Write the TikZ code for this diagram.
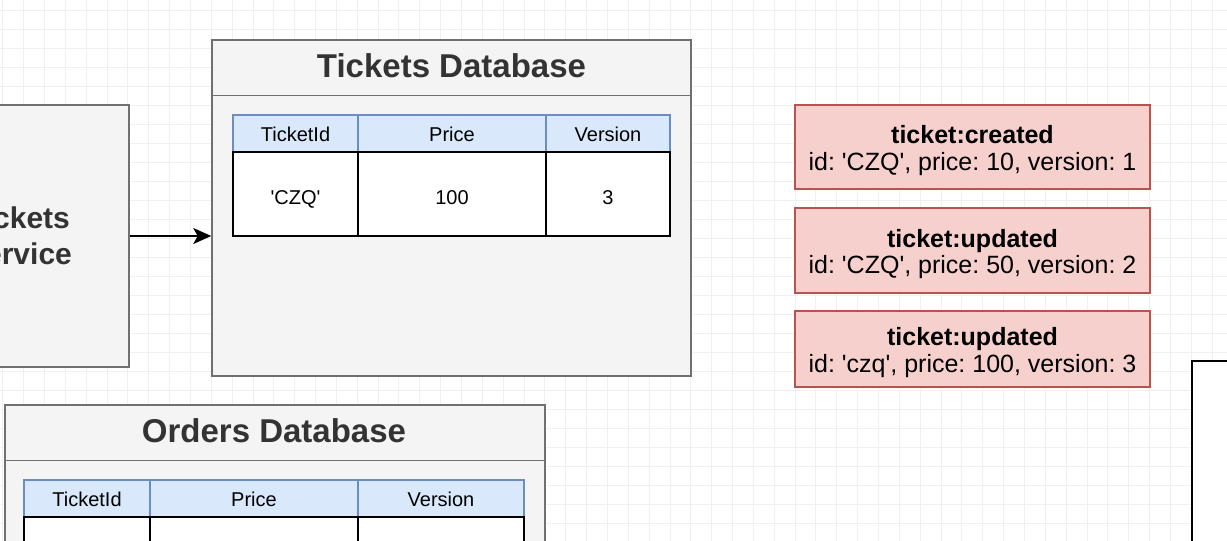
\documentclass[tikz,border=0pt]{standalone}
\usepackage{fontspec}
\setmainfont{Liberation Sans}
\usepackage{tikz}
\usetikzlibrary{arrows.meta}
\definecolor{boxgray}{HTML}{F4F4F4}
\definecolor{boxline}{HTML}{707070}
\definecolor{headblue}{HTML}{DAE8FC}
\definecolor{headline}{HTML}{6C8EBF}
\definecolor{evfill}{HTML}{F6D0CD}
\definecolor{evline}{HTML}{B85450}
\definecolor{textgray}{HTML}{333333}
\definecolor{gridgray}{HTML}{F0F0F0}
\tikzset{>={Stealth[width=16pt,length=18pt,inset=4.5pt]}}
\newcommand{\titlefont}{\fontsize{33}{38}\selectfont\bfseries}
\newcommand{\svcfont}{\fontsize{30}{36}\selectfont\bfseries}
\newcommand{\tabfont}{\fontsize{20}{24}\selectfont}
\newcommand{\evfont}{\fontsize{25}{26.7}\selectfont\frenchspacing}
\newcommand{\evstrut}{\rule{0pt}{25pt}}
\newcommand{\sq}{\textquotesingle}

\begin{document}
\begin{tikzpicture}[x=1pt,y=-1pt,
	gridline/.style={draw=gridgray, line width=1pt},
	dbbox/.style={draw=boxline, fill=boxgray, line width=1.5pt, inner sep=0pt},
	dbline/.style={draw=boxline, line width=1.5pt},
	hcell/.style={draw=headline, fill=headblue, line width=1.5pt, minimum height=37pt, inner sep=0pt, text height=16pt, text depth=0pt, font=\tabfont},
	bcell/.style={draw=black, fill=white, line width=2pt, minimum height=84pt, inner sep=0pt, text height=21pt, text depth=0pt, font=\tabfont},
	evbox/.style={draw=evline, fill=evfill, line width=1.5pt, minimum width=355pt, inner sep=0pt, align=center, font=\evfont}]
	\useasboundingbox (0,0) rectangle (1227,541);
	\clip (0,0) rectangle (1227,541);
	\fill[white] (0,0) rectangle (1227,541);
	\foreach \gx in {0,...,59}
		\draw[gridline] (2.8+20.85*\gx,0) -- (2.8+20.85*\gx,541);
	\foreach \gy in {0,...,28}
		\draw[gridline] (0,10+19*\gy) -- (1227,10+19*\gy);

	\node[dbbox, minimum width=221pt, minimum height=262pt, align=center, font=\svcfont, text=textgray] (svc) at (18.5,236) {Tickets\\Service};

	\node[dbbox, minimum width=479pt, minimum height=336pt] (tdb) at (451.5,208) {};
	\draw[dbline] ([yshift=-56pt]tdb.north west) -- ([yshift=-56pt]tdb.north east);
	\node[font=\titlefont, text=textgray] (tdbtitle) at (451.5,66) {Tickets Database};
	\node[hcell, minimum width=125pt] (tidh) at (295.5,133.5) {TicketId};
	\node[hcell, minimum width=188pt] (tpriceh) at (452,133.5) {Price};
	\node[hcell, minimum width=124pt] (tverh) at (608,133.5) {Version};
	\node[bcell, minimum width=125pt] (tid) at (295.5,194) {\sq CZQ\sq};
	\node[bcell, minimum width=188pt] (tprice) at (452,194) {100};
	\node[bcell, minimum width=124pt] (tver) at (608,194) {3};

	\draw[->, line width=1.8pt] (svc.east) -- (svc.east -| tdb.west);

	\node[dbbox, minimum width=540pt, minimum height=336pt] (odb) at (275,573) {};
	\draw[dbline] ([yshift=-56pt]odb.north west) -- ([yshift=-56pt]odb.north east);
	\node[font=\titlefont, text=textgray] (odbtitle) at (274,431) {Orders Database};
	\node[hcell, minimum width=126pt] (oidh) at (87,498.5) {TicketId};
	\node[hcell, minimum width=208pt] (opriceh) at (254,498.5) {Price};
	\node[hcell, minimum width=166pt] (overh) at (441,498.5) {Version};
	\node[bcell, minimum width=126pt] (oid) at (87,559) {};
	\node[bcell, minimum width=208pt] (oprice) at (254,559) {};
	\node[bcell, minimum width=166pt] (over) at (441,559) {};

	\node[evbox, minimum height=84pt] (evcreated) at (972.5,147) {\evstrut\textbf{ticket:created}\\id: \sq CZQ\sq, price: 10, version: 1};
	\node[evbox, minimum height=85pt] (evupdatedA) at (972.5,250.5) {\evstrut\textbf{ticket:updated}\\id: \sq CZQ\sq, price: 50, version: 2};
	\node[evbox, minimum height=76pt] (evupdatedB) at (972.5,349) {\evstrut\textbf{ticket:updated}\\id: \sq czq\sq, price: 100, version: 3};

	\node[draw=black, fill=white, line width=2pt, minimum width=150pt, minimum height=250pt, anchor=north west] (nextbox) at (1191,360) {};
\end{tikzpicture}
\end{document}
